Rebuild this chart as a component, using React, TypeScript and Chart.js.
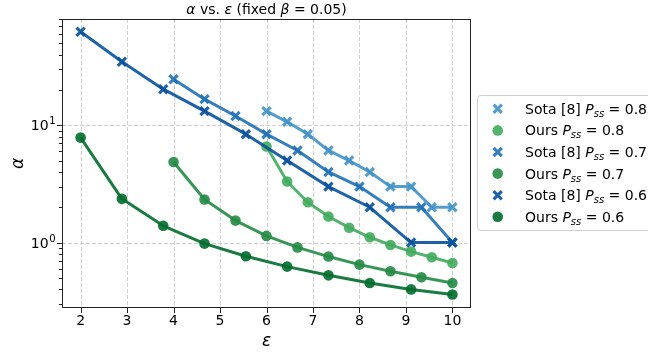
import React, { useEffect, useRef } from 'react';
import { Chart, registerables } from 'chart.js';

Chart.register(...registerables);

// ---- data ----
const EPS_06 = [2, 2.889, 3.778, 4.667, 5.556, 6.444, 7.333, 8.222, 9.111, 10];
const EPS_07 = [4, 4.667, 5.333, 6, 6.667, 7.333, 8, 8.667, 9.333, 10];
const EPS_08 = [6, 6.444, 6.889, 7.333, 7.778, 8.222, 8.667, 9.111, 9.556, 10];

const SOTA_08 = [13.2, 10.7, 8.4, 6.1, 5.0, 4.0, 3.0, 3.0, 2.0, 2.0];
const OURS_08 = [6.6, 3.32, 2.21, 1.67, 1.34, 1.11, 0.955, 0.838, 0.75, 0.67];
const SOTA_07 = [24.7, 16.7, 12.0, 8.4, 6.1, 4.0, 3.0, 2.0, 2.0, 1.0];
const OURS_07 = [4.86, 2.33, 1.54, 1.14, 0.91, 0.76, 0.649, 0.569, 0.506, 0.452];
const SOTA_06 = [62.7, 34.8, 20.3, 13.2, 8.4, 5.0, 3.0, 2.0, 1.0, 1.0];
const OURS_06 = [7.85, 2.36, 1.39, 0.98, 0.764, 0.624, 0.526, 0.452, 0.399, 0.361];

const P_VALUES = ['0.8', '0.8', '0.7', '0.7', '0.6', '0.6'];
const METHOD_NAMES = ['Sota [8]', 'Ours', 'Sota [8]', 'Ours', 'Sota [8]', 'Ours'];

const X_TICKS = [2, 3, 4, 5, 6, 7, 8, 9, 10];
const Y_MAJOR = [1, 10];
const Y_MAJOR_EXP = ['0', '1'];
const Y_MINOR = [0.3, 0.4, 0.5, 0.6, 0.7, 0.8, 0.9, 2, 3, 4, 5, 6, 7, 8, 9, 20, 30, 40, 50, 60, 70, 80];

const FONT = '"DejaVu Sans", sans-serif';

const SERIES = [
  { kind: 'sota', x: EPS_08, y: SOTA_08, color: 'rgba(66,146,198,0.9)' },
  { kind: 'ours', x: EPS_08, y: OURS_08, color: 'rgba(65,171,93,0.9)' },
  { kind: 'sota', x: EPS_07, y: SOTA_07, color: 'rgba(33,113,181,0.9)' },
  { kind: 'ours', x: EPS_07, y: OURS_07, color: 'rgba(35,139,69,0.9)' },
  { kind: 'sota', x: EPS_06, y: SOTA_06, color: 'rgba(8,81,156,0.9)' },
  { kind: 'ours', x: EPS_06, y: OURS_06, color: 'rgba(0,109,44,0.9)' },
];

const X_RADIUS = 5.8;
const X_WIDTH = 3.2;
const DOT_RADIUS = 5.3;

function drawRuns(ctx: CanvasRenderingContext2D, runs: { t: string; f: string; dy?: number }[], x: number, y: number, align: 'left' | 'center') {
  let total = 0;
  const widths = runs.map((r) => {
    ctx.font = r.f;
    const w = ctx.measureText(r.t).width;
    total += w;
    return w;
  });
  let cx = align === 'center' ? x - total / 2 : x;
  runs.forEach((r, i) => {
    ctx.font = r.f;
    ctx.fillText(r.t, cx, y + (r.dy || 0));
    cx += widths[i];
  });
}

const overlay = {
  id: 'overlay',
  beforeDatasetsDraw(chart: any) {
    const { ctx, chartArea: a, scales } = chart;
    const xs = scales.x;
    const ys = scales.y;
    ctx.save();
    ctx.strokeStyle = 'rgba(176,176,176,0.6)';
    ctx.lineWidth = 1;
    ctx.setLineDash([4, 2]);
    X_TICKS.forEach((v) => {
      const px = Math.round(xs.getPixelForValue(v)) + 0.5;
      ctx.beginPath();
      ctx.moveTo(px, a.top);
      ctx.lineTo(px, a.bottom);
      ctx.stroke();
    });
    Y_MAJOR.forEach((v) => {
      const py = Math.round(ys.getPixelForValue(v)) + 0.5;
      ctx.beginPath();
      ctx.moveTo(a.left, py);
      ctx.lineTo(a.right, py);
      ctx.stroke();
    });
    ctx.restore();
  },
  afterDraw(chart: any) {
    const { ctx, chartArea: a, scales } = chart;
    const xs = scales.x;
    const ys = scales.y;
    ctx.save();
    // spines
    ctx.strokeStyle = '#222';
    ctx.lineWidth = 1;
    ctx.strokeRect(Math.round(a.left) + 0.5, Math.round(a.top) + 0.5, Math.round(a.right - a.left) - 1, Math.round(a.bottom - a.top) - 1);
    // tick marks
    ctx.beginPath();
    X_TICKS.forEach((v) => {
      const px = Math.round(xs.getPixelForValue(v)) + 0.5;
      ctx.moveTo(px, a.bottom);
      ctx.lineTo(px, a.bottom + 5);
    });
    Y_MAJOR.forEach((v) => {
      const py = Math.round(ys.getPixelForValue(v)) + 0.5;
      ctx.moveTo(a.left, py);
      ctx.lineTo(a.left - 5, py);
    });
    Y_MINOR.forEach((v) => {
      const py = Math.round(ys.getPixelForValue(v)) + 0.5;
      ctx.moveTo(a.left, py);
      ctx.lineTo(a.left - 3, py);
    });
    ctx.stroke();

    ctx.fillStyle = '#000';
    ctx.textBaseline = 'alphabetic';
    // y tick labels 10^n
    Y_MAJOR.forEach((v, i) => {
      const py = ys.getPixelForValue(v);
      ctx.font = `14px ${FONT}`;
      const wb = ctx.measureText('10').width;
      ctx.font = `10px ${FONT}`;
      const we = ctx.measureText(Y_MAJOR_EXP[i]).width;
      const right = a.left - 7;
      const x0 = right - we - wb;
      ctx.font = `14px ${FONT}`;
      ctx.fillText('10', x0, py + 5);
      ctx.font = `10px ${FONT}`;
      ctx.fillText(Y_MAJOR_EXP[i], x0 + wb + 0.5, py - 1);
    });

    // title
    const reg = `14px ${FONT}`;
    const ita = `italic 14px ${FONT}`;
    drawRuns(ctx, [
      { t: 'α', f: ita },
      { t: ' vs. ', f: reg },
      { t: 'ε', f: ita },
      { t: ' (fixed ', f: reg },
      { t: 'β', f: ita },
      { t: ' = 0.05)', f: reg },
    ], (a.left + a.right) / 2, 14, 'center');

    // axis labels
    ctx.font = `italic 17px ${FONT}`;
    ctx.textAlign = 'center';
    ctx.fillText('ε', (a.left + a.right) / 2, 346);
    ctx.save();
    ctx.translate(23, (a.top + a.bottom) / 2);
    ctx.rotate(-Math.PI / 2);
    ctx.fillText('α', 0, 0);
    ctx.restore();
    ctx.textAlign = 'left';

    // legend
    const lx = 477.5;
    const ly = 95.5;
    const lw = 200;
    const lh = 135;
    ctx.fillStyle = 'rgba(255,255,255,0.85)';
    ctx.strokeStyle = '#cfcfcf';
    ctx.lineWidth = 1;
    ctx.beginPath();
    const r = 3;
    ctx.moveTo(lx + r, ly);
    ctx.lineTo(lx + lw - r, ly);
    ctx.arcTo(lx + lw, ly, lx + lw, ly + r, r);
    ctx.lineTo(lx + lw, ly + lh - r);
    ctx.arcTo(lx + lw, ly + lh, lx + lw - r, ly + lh, r);
    ctx.lineTo(lx + r, ly + lh);
    ctx.arcTo(lx, ly + lh, lx, ly + lh - r, r);
    ctx.lineTo(lx, ly + r);
    ctx.arcTo(lx, ly, lx + r, ly, r);
    ctx.closePath();
    ctx.fill();
    ctx.stroke();

    SERIES.forEach((s, i) => {
      const cy = 108.8 + i * 21.6;
      const mx = 497.7;
      ctx.fillStyle = s.color;
      ctx.strokeStyle = s.color;
      if (s.kind === 'sota') {
        const o = Math.cos(Math.PI / 4) * X_RADIUS;
        ctx.lineWidth = X_WIDTH;
        ctx.beginPath();
        ctx.moveTo(mx - o, cy - o);
        ctx.lineTo(mx + o, cy + o);
        ctx.moveTo(mx - o, cy + o);
        ctx.lineTo(mx + o, cy - o);
        ctx.stroke();
      } else {
        ctx.beginPath();
        ctx.arc(mx, cy, DOT_RADIUS, 0, Math.PI * 2);
        ctx.fill();
      }
      ctx.fillStyle = '#000';
      drawRuns(ctx, [
        { t: METHOD_NAMES[i] + ' ', f: reg },
        { t: 'P', f: ita },
        { t: 'ss', f: `italic 10px ${FONT}`, dy: 3 },
        { t: ' = ' + P_VALUES[i], f: reg },
      ], 525, cy + 5, 'left');
    });
    ctx.restore();
  },
};

export default function App() {
  const ref = useRef<HTMLCanvasElement | null>(null);
  useEffect(() => {
    if (!ref.current) return;
    const datasets = SERIES.map((s, i) => ({
      label: METHOD_NAMES[i] + ' P_ss = ' + P_VALUES[i],
      data: s.x.map((xv, j) => ({ x: xv, y: s.y[j] })),
      borderColor: s.color,
      backgroundColor: s.color,
      borderWidth: 3,
      borderJoinStyle: 'round' as const,
      pointStyle: s.kind === 'sota' ? 'crossRot' : 'circle',
      pointRadius: s.kind === 'sota' ? X_RADIUS : DOT_RADIUS,
      pointBorderWidth: s.kind === 'sota' ? X_WIDTH : 0,
      pointBorderColor: s.color,
      pointBackgroundColor: s.color,
      tension: 0,
      order: SERIES.length - i,
    }));
    const chart = new Chart(ref.current, {
      type: 'line',
      data: { datasets },
      options: {
        animation: false,
        responsive: false,
        devicePixelRatio: 1,
        layout: { padding: { top: 19, right: 177, left: 0, bottom: 0 } },
        plugins: { legend: { display: false }, title: { display: false }, tooltip: { enabled: false } },
        scales: {
          x: {
            type: 'linear',
            min: 1.6,
            max: 10.4,
            afterBuildTicks: (s: any) => {
              s.ticks = X_TICKS.map((v) => ({ value: v }));
            },
            afterFit: (s: any) => {
              s.height = 45;
            },
            grid: { display: false, drawTicks: false },
            border: { display: false },
            ticks: {
              font: { family: FONT, size: 14 },
              color: '#000',
              padding: 5,
              maxRotation: 0,
              autoSkip: false,
              callback: (v: any) => String(v),
            },
          },
          y: {
            type: 'logarithmic',
            min: 0.277,
            max: 80.5,
            afterBuildTicks: (s: any) => {
              s.ticks = Y_MAJOR.map((v) => ({ value: v }));
            },
            afterFit: (s: any) => {
              s.width = 62;
            },
            grid: { display: false, drawTicks: false },
            border: { display: false },
            ticks: { display: false },
          },
        },
      },
      plugins: [overlay],
    });
    return () => chart.destroy();
  }, []);
  return (
    <div style={{ position: 'absolute', left: 0, top: 0, width: 648, height: 353, background: '#fff' }}>
      <canvas ref={ref} width={648} height={353} style={{ width: 648, height: 353, display: 'block' }} />
    </div>
  );
}
